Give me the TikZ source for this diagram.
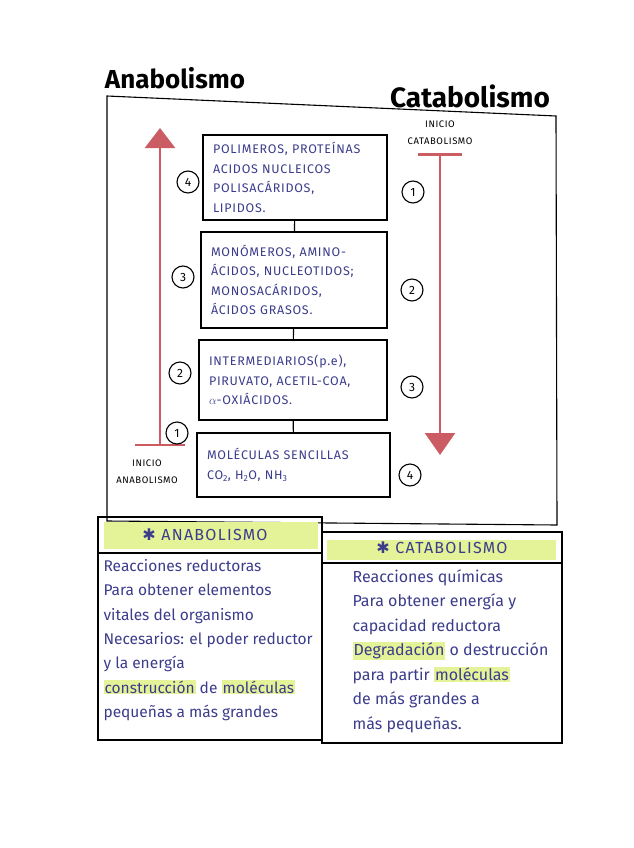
\documentclass[tikz,border=0pt]{standalone}
\usepackage{fontspec}
\setmainfont{Fira Sans}
\newfontfamily\symfont{DejaVu Sans}
\usetikzlibrary{arrows.meta}
\definecolor{ink}{RGB}{60,60,140}
\definecolor{redpen}{RGB}{204,92,100}
\definecolor{hlgreen}{RGB}{228,242,152}
\newcommand{\hlt}[1]{{\setlength{\fboxsep}{1pt}\colorbox{hlgreen}{#1}}}
\newcommand{\hdstar}{{\symfont\char"2731}}

\begin{document}
\begin{tikzpicture}[x=1pt,y=-1pt,line width=1.1pt,
  stage/.style={draw,align=left,text=ink,inner xsep=10pt,font=\fontsize{12.5}{19.5}\selectfont\addfontfeature{LetterSpace=6}},
  num/.style={draw,circle,minimum size=22pt,inner sep=0pt,font=\fontsize{12}{12}\selectfont},
  redpath/.style={redpen,line width=2.5pt},
  lbl/.style={font=\fontsize{9.5}{17}\selectfont\addfontfeature{LetterSpace=6},align=center},
  title/.style={font=\bfseries},
  head/.style={text=ink,font=\fontsize{16}{16}\selectfont\addfontfeature{LetterSpace=8}},
  col/.style={align=left,text=ink,inner sep=0pt,anchor=north west}]
\useasboundingbox (0,0) rectangle (633,848);

\node[title,font=\fontsize{26}{26}\selectfont\bfseries] (anaTitle) at (175,78) {Anabolismo};
\node[title,font=\fontsize{28}{28}\selectfont\bfseries] (catTitle) at (470,96) {Catabolismo};
\draw (107,96) -- (556,116) -- (557,525) -- (107,521) -- cycle;

\node[stage,text width=164pt,minimum height=85pt] (poly) at (295,177.5)
  {POLIMEROS, PROTEÍNAS\\ ACIDOS NUCLEICOS\\ POLISACÁRIDOS,\\ LIPIDOS.};
\node[stage,text width=166pt,minimum height=96pt] (mono) at (294,280)
  {MONÓMEROS, AMINO-\\ ÁCIDOS, NUCLEOTIDOS;\\ MONOSACÁRIDOS,\\ ÁCIDOS GRASOS.};
\node[stage,text width=168pt,minimum height=80pt] (inter) at (293,380)
  {INTERMEDIARIOS(p.e),\\ PIRUVATO, ACETIL-COA,\\ $\alpha$-OXIÁCIDOS.};
\node[stage,text width=173pt,minimum height=64pt] (simple) at (293.5,465)
  {MOLÉCULAS SENCILLAS\\ CO\textsubscript{2}, H\textsubscript{2}O, NH\textsubscript{3}};
\draw (poly) -- (mono);
\draw (mono) -- (inter);
\draw (inter) -- (simple);

\coordinate (anaStart) at (160,446);
\coordinate (anaEnd) at (160,128);
\draw[redpath,{Bar[width=50pt]}-{Triangle[width=30pt,length=20pt]}] (anaStart) -- (anaEnd);
\node[lbl] (anaLbl) at (147,472) {INICIO\\ ANABOLISMO};
\node[num] (ana4) at (188,182) {4};
\node[num] (ana3) at (183,277) {3};
\node[num] (ana2) at (180,373) {2};
\node[num] (ana1) at (177,433) {1};

\coordinate (catStart) at (440,153);
\coordinate (catEnd) at (440,455);
\draw[redpath,{Bar[width=44pt]}-{Triangle[width=30pt,length=22pt]}] (catStart) -- (catEnd);
\node[lbl] (catLbl) at (440,133) {INICIO\\ CATABOLISMO};
\node[num] (cat1) at (413,192) {1};
\node[num] (cat2) at (412,290) {2};
\node[num] (cat3) at (412,387) {3};
\node[num] (cat4) at (410,475) {4};

\fill[hlgreen] (104,522) rectangle (318,549);
\fill[hlgreen] (327,540) rectangle (556,560);
\draw (98,517) rectangle (322,740);
\draw (322,532) rectangle (562,743);
\draw (98,553) -- (322,553);
\draw (322,563) -- (562,563);
\node[head] (anaHead) at (205,535) {\hdstar\ ANABOLISMO};
\node[head] (catHead) at (442,548) {\hdstar\ CATABOLISMO};

\node[col,font=\fontsize{15.5}{24.3}\selectfont] (anaText) at (103,559)
  {Reacciones reductoras\\ Para obtener elementos\\ vitales del organismo\\
   Necesarios: el poder reductor\\ y la energía\\
   \hlt{construcción} de \hlt{moléculas}\\ pequeñas a más grandes};
\node[col,font=\fontsize{16}{24.5}\selectfont] (catText) at (352,569)
  {Reacciones químicas\\ Para obtener energía y\\ capacidad reductora\\
   \hlt{Degradación} o destrucción\\ para partir \hlt{moléculas}\\
   de más grandes a\\ más pequeñas.};
\end{tikzpicture}
\end{document}
